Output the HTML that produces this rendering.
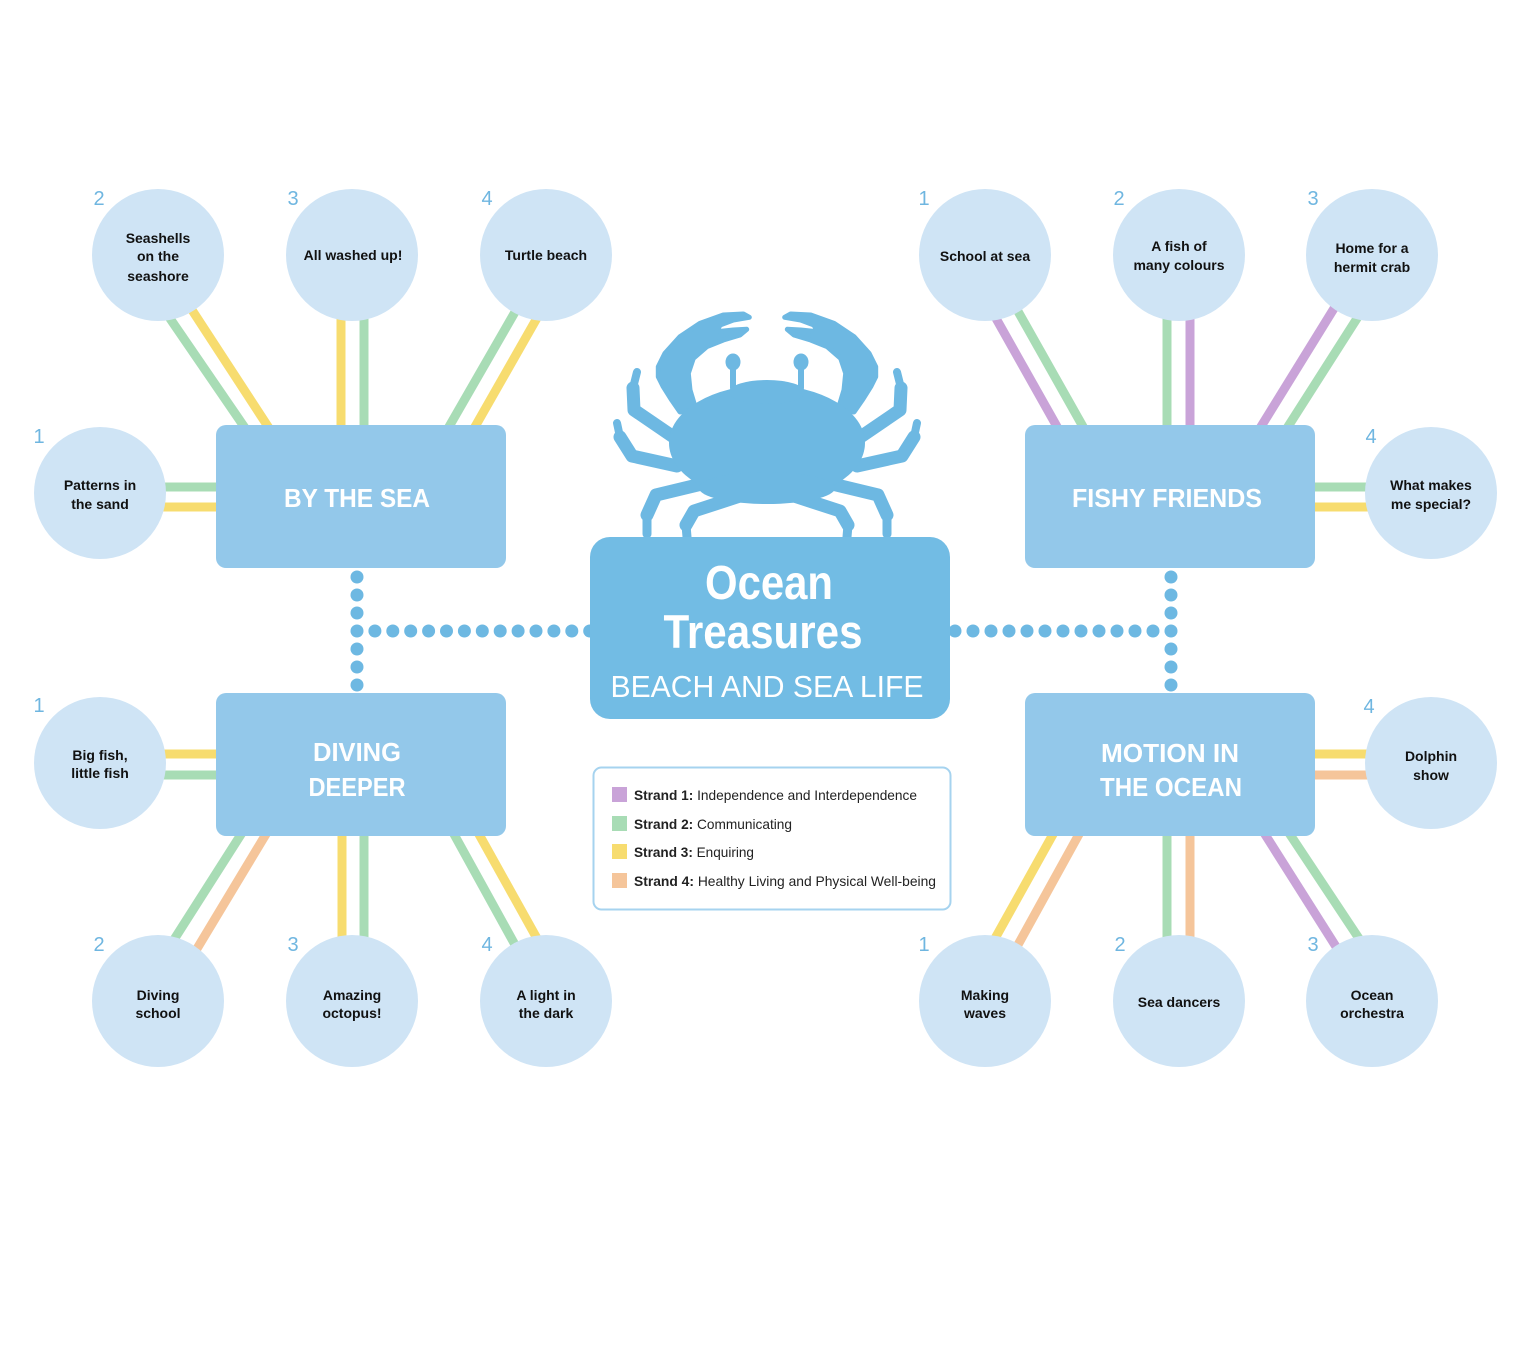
<!DOCTYPE html>
<html><head><meta charset="utf-8"><style>
html,body{margin:0;padding:0;background:#fff;}
svg{display:block;}
.lbl{font-family:"Liberation Sans",sans-serif;font-weight:bold;font-size:14px;fill:#111;text-anchor:middle;}
.num{font-family:"Liberation Sans",sans-serif;font-size:20px;fill:#6fb6e0;text-anchor:middle;}
.ttl{font-family:"Liberation Sans",sans-serif;font-weight:bold;font-size:26px;fill:#fff;text-anchor:middle;}
.leg{font-family:"Liberation Sans",sans-serif;font-size:14px;fill:#222;}
</style></head><body>
<svg width="1530" height="1364" viewBox="0 0 1530 1364" xmlns="http://www.w3.org/2000/svg">
<rect width="1530" height="1364" fill="#fff"/>
<g stroke-width="9" fill="none">
<!-- top-left -->
<line x1="162.5" y1="307.6" x2="251.5" y2="437.4" stroke="#a8dcb5"/>
<line x1="183.8" y1="297.4" x2="275.2" y2="437.6" stroke="#f7dc6f"/>
<line x1="341" y1="300" x2="341" y2="440" stroke="#f7dc6f"/>
<line x1="364" y1="300" x2="364" y2="440" stroke="#a8dcb5"/>
<line x1="522.5" y1="299" x2="442.5" y2="438" stroke="#a8dcb5"/>
<line x1="544.4" y1="305" x2="468.6" y2="438" stroke="#f7dc6f"/>
<line x1="150" y1="487" x2="230" y2="487" stroke="#a8dcb5"/>
<line x1="150" y1="507" x2="230" y2="507" stroke="#f7dc6f"/>
<!-- bottom-left -->
<line x1="248" y1="823.4" x2="167" y2="950.6" stroke="#a8dcb5"/>
<line x1="272.7" y1="823" x2="190.3" y2="959.8" stroke="#f5c59a"/>
<line x1="342" y1="823" x2="342" y2="960" stroke="#f7dc6f"/>
<line x1="364" y1="823" x2="364" y2="960" stroke="#a8dcb5"/>
<line x1="447.8" y1="823" x2="521.2" y2="956" stroke="#a8dcb5"/>
<line x1="472.7" y1="823" x2="542.3" y2="948" stroke="#f7dc6f"/>
<line x1="150" y1="754" x2="230" y2="754" stroke="#f7dc6f"/>
<line x1="150" y1="775" x2="230" y2="775" stroke="#a8dcb5"/>
<!-- top-right -->
<line x1="989.6" y1="307" x2="1063.4" y2="438" stroke="#c9a3d8"/>
<line x1="1011.6" y1="300" x2="1089.4" y2="438" stroke="#a8dcb5"/>
<line x1="1167" y1="300" x2="1167" y2="440" stroke="#a8dcb5"/>
<line x1="1190" y1="300" x2="1190" y2="440" stroke="#c9a3d8"/>
<line x1="1340.9" y1="297.2" x2="1254.1" y2="437.8" stroke="#c9a3d8"/>
<line x1="1364" y1="307.4" x2="1281" y2="437.6" stroke="#a8dcb5"/>
<line x1="1300" y1="487" x2="1380" y2="487" stroke="#a8dcb5"/>
<line x1="1300" y1="507" x2="1380" y2="507" stroke="#f7dc6f"/>
<!-- bottom-right -->
<line x1="1059.3" y1="823" x2="989.7" y2="948" stroke="#f7dc6f"/>
<line x1="1085.2" y1="823" x2="1011.8" y2="956" stroke="#f5c59a"/>
<line x1="1167" y1="823" x2="1167" y2="960" stroke="#a8dcb5"/>
<line x1="1190" y1="823" x2="1190" y2="960" stroke="#f5c59a"/>
<line x1="1258" y1="823.3" x2="1343" y2="957.7" stroke="#c9a3d8"/>
<line x1="1282.7" y1="823.5" x2="1366.3" y2="949.5" stroke="#a8dcb5"/>
<line x1="1300" y1="754" x2="1380" y2="754" stroke="#f7dc6f"/>
<line x1="1300" y1="775" x2="1380" y2="775" stroke="#f5c59a"/>
</g>

<!-- circles -->
<g fill="#cfe4f5">
<circle cx="158" cy="255" r="66"/><circle cx="352" cy="255" r="66"/><circle cx="546" cy="255" r="66"/>
<circle cx="985" cy="255" r="66"/><circle cx="1179" cy="255" r="66"/><circle cx="1372" cy="255" r="66"/>
<circle cx="158" cy="1001" r="66"/><circle cx="352" cy="1001" r="66"/><circle cx="546" cy="1001" r="66"/>
<circle cx="985" cy="1001" r="66"/><circle cx="1179" cy="1001" r="66"/><circle cx="1372" cy="1001" r="66"/>
<circle cx="100" cy="493" r="66"/><circle cx="100" cy="763" r="66"/>
<circle cx="1431" cy="493" r="66"/><circle cx="1431" cy="763" r="66"/>
</g>

<!-- boxes -->
<g fill="#93c8ea">
<rect x="216" y="425" width="290" height="143" rx="10"/>
<rect x="1025" y="425" width="290" height="143" rx="10"/>
<rect x="216" y="693" width="290" height="143" rx="10"/>
<rect x="1025" y="693" width="290" height="143" rx="10"/>
</g>

<!-- dots -->
<g fill="#6db8e2">
<circle cx="357" cy="577" r="6.5"/><circle cx="357" cy="595" r="6.5"/><circle cx="357" cy="613" r="6.5"/><circle cx="357" cy="649" r="6.5"/><circle cx="357" cy="667" r="6.5"/><circle cx="357" cy="685" r="6.5"/>
<circle cx="1171" cy="577" r="6.5"/><circle cx="1171" cy="595" r="6.5"/><circle cx="1171" cy="613" r="6.5"/><circle cx="1171" cy="649" r="6.5"/><circle cx="1171" cy="667" r="6.5"/><circle cx="1171" cy="685" r="6.5"/>
<circle cx="357" cy="631" r="6.5"/><circle cx="374.9" cy="631" r="6.5"/><circle cx="392.8" cy="631" r="6.5"/><circle cx="410.7" cy="631" r="6.5"/><circle cx="428.6" cy="631" r="6.5"/><circle cx="446.5" cy="631" r="6.5"/><circle cx="464.4" cy="631" r="6.5"/><circle cx="482.3" cy="631" r="6.5"/><circle cx="500.2" cy="631" r="6.5"/><circle cx="518.1" cy="631" r="6.5"/><circle cx="536" cy="631" r="6.5"/><circle cx="553.9" cy="631" r="6.5"/><circle cx="571.8" cy="631" r="6.5"/><circle cx="589.7" cy="631" r="6.5"/>
<circle cx="1171" cy="631" r="6.5"/><circle cx="1153" cy="631" r="6.5"/><circle cx="1135" cy="631" r="6.5"/><circle cx="1117" cy="631" r="6.5"/><circle cx="1099" cy="631" r="6.5"/><circle cx="1081" cy="631" r="6.5"/><circle cx="1063" cy="631" r="6.5"/><circle cx="1045" cy="631" r="6.5"/><circle cx="1027" cy="631" r="6.5"/><circle cx="1009" cy="631" r="6.5"/><circle cx="991" cy="631" r="6.5"/><circle cx="973" cy="631" r="6.5"/><circle cx="955" cy="631" r="6.5"/>
</g>

<!-- crab -->
<g fill="#6db8e2" stroke="none">
<g id="half">
<path d="M658.3,366.7 L665,353.3 L680,336.7 L700,323.3 L723.3,315 L743.3,314 L749.3,317.3 L733.3,320 L720,325 L716.7,331.7 L733.3,330 L746.7,329.3 L740,335 L723.3,340 L706.7,346.7 L693.3,358.3 L688.3,373.3 L690,390 L696,410 L680,412 L671.7,400 L663.3,386.7 L658.3,376.7 Z" stroke="#6db8e2" stroke-width="5" stroke-linejoin="round"/>
<g fill="none" stroke="#6db8e2" stroke-linecap="round" stroke-linejoin="round">
<polyline points="675,438 634,410 633,388" stroke-width="13"/>
<line x1="633" y1="388" x2="637" y2="372" stroke-width="8"/>
<polyline points="677,466 632,456 620,437" stroke-width="13"/>
<line x1="620" y1="437" x2="617" y2="423" stroke-width="8"/>
<polyline points="710,482 656,495 647,515" stroke-width="13"/>
<line x1="647" y1="515" x2="647" y2="534" stroke-width="9"/>
<polyline points="737,497 694,511 686,525" stroke-width="13"/>
<line x1="686" y1="525" x2="687" y2="537" stroke-width="9"/>
<line x1="733" y1="388" x2="733" y2="366" stroke-width="6"/>
</g>
<ellipse cx="733" cy="362" rx="7.5" ry="8.5"/>
</g>
<use href="#half" transform="translate(1534,0) scale(-1,1)"/>
<ellipse cx="767" cy="443" rx="98" ry="58"/>
<ellipse cx="767" cy="392" rx="38" ry="12"/>
<ellipse cx="767" cy="488" rx="68" ry="16"/>
</g>

<!-- center box -->
<rect x="590" y="537" width="360" height="182" rx="20" fill="#72bce4"/>
<text x="769" y="599" font-family="Liberation Sans, sans-serif" font-weight="bold" font-size="48" fill="#fff" text-anchor="middle" textLength="128" lengthAdjust="spacingAndGlyphs">Ocean</text>
<text x="763" y="648" font-family="Liberation Sans, sans-serif" font-weight="bold" font-size="47" fill="#fff" text-anchor="middle" textLength="199" lengthAdjust="spacingAndGlyphs">Treasures</text>
<text x="767" y="697" font-family="Liberation Sans, sans-serif" font-size="31" fill="#fff" text-anchor="middle" textLength="313" lengthAdjust="spacingAndGlyphs">BEACH AND SEA LIFE</text>

<!-- box titles -->
<text class="ttl" x="357" y="507" textLength="146" lengthAdjust="spacingAndGlyphs">BY THE SEA</text>
<text class="ttl" x="1167" y="507" textLength="190" lengthAdjust="spacingAndGlyphs">FISHY FRIENDS</text>
<text class="ttl" x="357" y="761" textLength="88" lengthAdjust="spacingAndGlyphs">DIVING</text>
<text class="ttl" x="357" y="796" textLength="97" lengthAdjust="spacingAndGlyphs">DEEPER</text>
<text class="ttl" x="1170" y="762" textLength="138" lengthAdjust="spacingAndGlyphs">MOTION IN</text>
<text class="ttl" x="1171" y="796" textLength="142" lengthAdjust="spacingAndGlyphs">THE OCEAN</text>

<!-- circle labels -->
<text class="lbl" x="158" y="243">Seashells</text>
<text class="lbl" x="158" y="261">on the</text>
<text class="lbl" x="158" y="281">seashore</text>
<text class="lbl" x="353" y="260">All washed up!</text>
<text class="lbl" x="546" y="260">Turtle beach</text>
<text class="lbl" x="100" y="490">Patterns in</text>
<text class="lbl" x="100" y="509">the sand</text>
<text class="lbl" x="985" y="261">School at sea</text>
<text class="lbl" x="1179" y="251">A fish of</text>
<text class="lbl" x="1179" y="270">many colours</text>
<text class="lbl" x="1372" y="253">Home for a</text>
<text class="lbl" x="1372" y="272">hermit crab</text>
<text class="lbl" x="1431" y="490">What makes</text>
<text class="lbl" x="1431" y="509">me special?</text>
<text class="lbl" x="100" y="760">Big fish,</text>
<text class="lbl" x="100" y="778">little fish</text>
<text class="lbl" x="158" y="1000">Diving</text>
<text class="lbl" x="158" y="1018">school</text>
<text class="lbl" x="352" y="1000">Amazing</text>
<text class="lbl" x="352" y="1018">octopus!</text>
<text class="lbl" x="546" y="1000">A light in</text>
<text class="lbl" x="546" y="1018">the dark</text>
<text class="lbl" x="985" y="1000">Making</text>
<text class="lbl" x="985" y="1018">waves</text>
<text class="lbl" x="1179" y="1007">Sea dancers</text>
<text class="lbl" x="1372" y="1000">Ocean</text>
<text class="lbl" x="1372" y="1018">orchestra</text>
<text class="lbl" x="1431" y="761">Dolphin</text>
<text class="lbl" x="1431" y="780">show</text>

<!-- numbers -->
<text class="num" x="99" y="205">2</text>
<text class="num" x="293" y="205">3</text>
<text class="num" x="487" y="205">4</text>
<text class="num" x="39" y="443">1</text>
<text class="num" x="924" y="205">1</text>
<text class="num" x="1119" y="205">2</text>
<text class="num" x="1313" y="205">3</text>
<text class="num" x="1371" y="443">4</text>
<text class="num" x="39" y="712">1</text>
<text class="num" x="99" y="951">2</text>
<text class="num" x="293" y="951">3</text>
<text class="num" x="487" y="951">4</text>
<text class="num" x="924" y="951">1</text>
<text class="num" x="1120" y="951">2</text>
<text class="num" x="1313" y="951">3</text>
<text class="num" x="1369" y="713">4</text>

<!-- legend -->
<rect x="593.5" y="767.5" width="357" height="142" rx="8" fill="#fff" stroke="#a6d3ef" stroke-width="2"/>
<rect x="612" y="787" width="15" height="15" fill="#c9a3d8"/>
<rect x="612" y="816" width="15" height="15" fill="#a8dcb5"/>
<rect x="612" y="844" width="15" height="15" fill="#f7dc6f"/>
<rect x="612" y="873" width="15" height="15" fill="#f5c59a"/>
<text class="leg" x="634" y="800" textLength="283" lengthAdjust="spacingAndGlyphs"><tspan font-weight="bold">Strand 1:</tspan> Independence and Interdependence</text>
<text class="leg" x="634" y="829" textLength="158" lengthAdjust="spacingAndGlyphs"><tspan font-weight="bold">Strand 2:</tspan> Communicating</text>
<text class="leg" x="634" y="857" textLength="120" lengthAdjust="spacingAndGlyphs"><tspan font-weight="bold">Strand 3:</tspan> Enquiring</text>
<text class="leg" x="634" y="886" textLength="302" lengthAdjust="spacingAndGlyphs"><tspan font-weight="bold">Strand 4:</tspan> Healthy Living and Physical Well-being</text>
</svg>
</body></html>
